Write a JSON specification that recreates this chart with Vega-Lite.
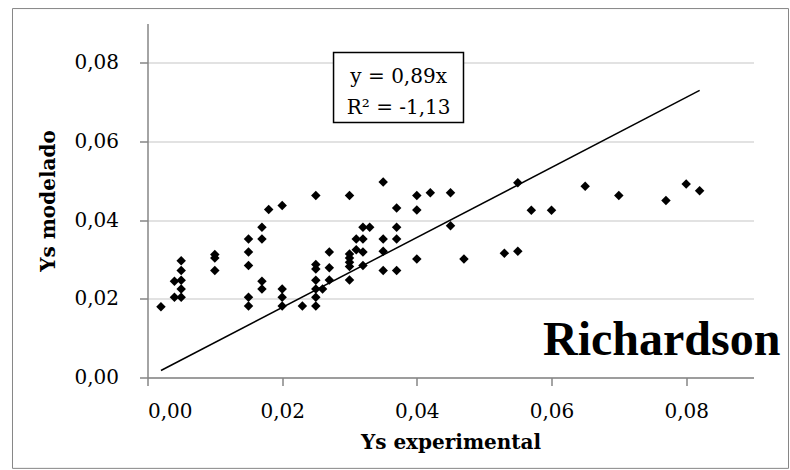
{
  "$schema": "https://vega.github.io/schema/vega-lite/v6.json",
  "width": 606,
  "height": 354,
  "autosize": {"type": "pad"},
  "padding": {"left": 11.5, "top": 7.5, "right": 1.5, "bottom": 1.5},
  "background": "white",
  "config": {
    "view": {"stroke": null},
    "font": "DejaVu Serif",
    "axis": {
      "labelFont": "DejaVu Serif",
      "labelFontSize": 20,
      "labelColor": "black",
      "titleFont": "DejaVu Serif",
      "titleFontSize": 20,
      "titleFontWeight": "bold",
      "titleColor": "black",
      "domainColor": "#868686",
      "domainWidth": 1.5,
      "tickColor": "#868686",
      "tickWidth": 1.5,
      "tickSize": 8,
      "gridColor": "#d9d9d9",
      "gridWidth": 1.5
    }
  },
  "datasets": {
    "points": [
      {"x": 0.002, "y": 0.018},
      {"x": 0.004, "y": 0.0245},
      {"x": 0.004, "y": 0.0204},
      {"x": 0.005, "y": 0.0297},
      {"x": 0.005, "y": 0.0272},
      {"x": 0.005, "y": 0.0247},
      {"x": 0.005, "y": 0.0225},
      {"x": 0.005, "y": 0.0204},
      {"x": 0.010, "y": 0.0313},
      {"x": 0.010, "y": 0.0304},
      {"x": 0.010, "y": 0.0272},
      {"x": 0.015, "y": 0.0352},
      {"x": 0.015, "y": 0.0319},
      {"x": 0.015, "y": 0.0285},
      {"x": 0.015, "y": 0.0204},
      {"x": 0.015, "y": 0.0182},
      {"x": 0.017, "y": 0.0382},
      {"x": 0.017, "y": 0.0352},
      {"x": 0.017, "y": 0.0245},
      {"x": 0.017, "y": 0.0225},
      {"x": 0.018, "y": 0.0427},
      {"x": 0.020, "y": 0.0437},
      {"x": 0.020, "y": 0.0225},
      {"x": 0.020, "y": 0.0204},
      {"x": 0.020, "y": 0.0182},
      {"x": 0.023, "y": 0.0182},
      {"x": 0.025, "y": 0.0463},
      {"x": 0.025, "y": 0.0287},
      {"x": 0.025, "y": 0.0276},
      {"x": 0.025, "y": 0.0247},
      {"x": 0.025, "y": 0.0225},
      {"x": 0.025, "y": 0.0204},
      {"x": 0.025, "y": 0.0182},
      {"x": 0.026, "y": 0.0225},
      {"x": 0.027, "y": 0.0319},
      {"x": 0.027, "y": 0.0279},
      {"x": 0.027, "y": 0.0248},
      {"x": 0.030, "y": 0.0463},
      {"x": 0.030, "y": 0.0314},
      {"x": 0.030, "y": 0.0304},
      {"x": 0.030, "y": 0.0293},
      {"x": 0.030, "y": 0.0282},
      {"x": 0.030, "y": 0.0248},
      {"x": 0.031, "y": 0.0352},
      {"x": 0.031, "y": 0.0325},
      {"x": 0.032, "y": 0.0382},
      {"x": 0.032, "y": 0.0352},
      {"x": 0.032, "y": 0.0319},
      {"x": 0.032, "y": 0.0285},
      {"x": 0.033, "y": 0.0382},
      {"x": 0.035, "y": 0.0497},
      {"x": 0.035, "y": 0.0352},
      {"x": 0.035, "y": 0.0321},
      {"x": 0.035, "y": 0.0272},
      {"x": 0.037, "y": 0.0431},
      {"x": 0.037, "y": 0.0382},
      {"x": 0.037, "y": 0.0352},
      {"x": 0.037, "y": 0.0272},
      {"x": 0.040, "y": 0.0463},
      {"x": 0.040, "y": 0.0426},
      {"x": 0.040, "y": 0.0301},
      {"x": 0.042, "y": 0.0470},
      {"x": 0.045, "y": 0.0470},
      {"x": 0.045, "y": 0.0386},
      {"x": 0.047, "y": 0.0301},
      {"x": 0.053, "y": 0.0316},
      {"x": 0.055, "y": 0.0495},
      {"x": 0.055, "y": 0.0321},
      {"x": 0.057, "y": 0.0425},
      {"x": 0.060, "y": 0.0425},
      {"x": 0.065, "y": 0.0486},
      {"x": 0.070, "y": 0.0463},
      {"x": 0.077, "y": 0.0450},
      {"x": 0.080, "y": 0.0492},
      {"x": 0.082, "y": 0.0475}
    ],
    "trend": [
      {"x": 0.002, "y": 0.00178},
      {"x": 0.082, "y": 0.07298}
    ]
  },
  "layer": [
    {
      "data": {"name": "points"},
      "mark": {"type": "point", "shape": "diamond", "filled": true, "color": "black", "size": 90, "opacity": 1},
      "encoding": {
        "x": {
          "field": "x",
          "type": "quantitative",
          "scale": {"domain": [0, 0.09], "nice": false, "zero": false},
          "axis": {
            "title": "Ys experimental",
            "values": [0, 0.02, 0.04, 0.06, 0.08],
            "labelExpr": "replace(format(datum.value, '.2f'), '.', ',')",
            "grid": false,
            "labelPadding": 16,
            "titlePadding": 11
          }
        },
        "y": {
          "field": "y",
          "type": "quantitative",
          "scale": {"domain": [0, 0.09], "nice": false, "zero": false},
          "axis": {
            "title": "Ys modelado",
            "values": [0, 0.02, 0.04, 0.06, 0.08],
            "labelExpr": "replace(format(datum.value, '.2f'), '.', ',')",
            "grid": true,
            "labelPadding": 21,
            "titlePadding": 15
          }
        }
      }
    },
    {
      "data": {"values": [{}]},
      "mark": {"type": "rect", "filled": false, "fill": "transparent", "stroke": "#868686", "strokeWidth": 1},
      "encoding": {
        "x": {"datum": -0.02005, "type": "quantitative"},
        "x2": {"datum": 0.0952},
        "y": {"datum": 0.0938, "type": "quantitative"},
        "y2": {"datum": -0.0231}
      }
    },
    {
      "data": {"name": "trend"},
      "mark": {"type": "line", "color": "black", "strokeWidth": 1.5},
      "encoding": {
        "x": {"field": "x", "type": "quantitative"},
        "y": {"field": "y", "type": "quantitative"}
      }
    },
    {
      "data": {"values": [{}]},
      "mark": {"type": "rect", "fill": "white", "stroke": "black", "strokeWidth": 1.5},
      "encoding": {
        "x": {"datum": 0.02763, "type": "quantitative"},
        "x2": {"datum": 0.04693},
        "y": {"datum": 0.08263, "type": "quantitative"},
        "y2": {"datum": 0.06484}
      }
    },
    {
      "data": {"values": [{"label": "y = 0,89x"}]},
      "mark": {"type": "text", "font": "DejaVu Serif", "fontSize": 20, "color": "black", "align": "center", "baseline": "alphabetic"},
      "encoding": {
        "x": {"datum": 0.0373, "type": "quantitative"},
        "y": {"datum": 0.075, "type": "quantitative"},
        "text": {"field": "label"}
      }
    },
    {
      "data": {"values": [{"label": "R² = -1,13"}]},
      "mark": {"type": "text", "font": "DejaVu Serif", "fontSize": 20, "color": "black", "align": "center", "baseline": "alphabetic"},
      "encoding": {
        "x": {"datum": 0.0373, "type": "quantitative"},
        "y": {"datum": 0.0671, "type": "quantitative"},
        "text": {"field": "label"}
      }
    },
    {
      "data": {"values": [{"label": "Richardson"}]},
      "mark": {"type": "text", "font": "Liberation Serif", "fontSize": 48, "fontWeight": "bold", "color": "black", "align": "right", "baseline": "alphabetic"},
      "encoding": {
        "x": {"datum": 0.0940, "type": "quantitative"},
        "y": {"datum": 0.0056, "type": "quantitative"},
        "text": {"field": "label"}
      }
    }
  ]
}
